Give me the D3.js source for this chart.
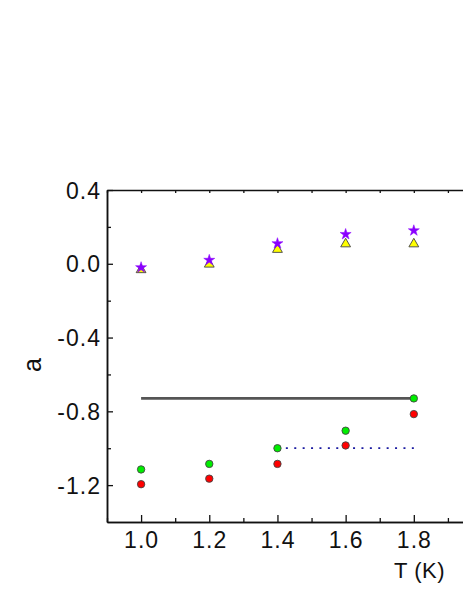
<!DOCTYPE html>
<html>
<head>
<meta charset="utf-8">
<script src="https://cdn.jsdelivr.net/npm/d3@7"></script>
<style>
  html, body { margin: 0; padding: 0; background: #fff; }
  svg { display: block; font-family: Arial, "Liberation Sans", sans-serif; }
</style>
</head>
<body>
<svg id="chart" width="463" height="599"></svg>
<script>
// ---- data ----
const temps = [1.0, 1.2, 1.4, 1.6, 1.8];
const starVals = [-0.02, 0.02, 0.11, 0.16, 0.18];
const triVals = [-0.03, 0.00, 0.08, 0.11, 0.11];
const greenVals = [-1.115, -1.085, -1.00, -0.905, -0.73];
const redVals = [-1.195, -1.165, -1.085, -0.985, -0.815];
const solidLine = { x: [1.0, 1.8], y: -0.73 };
const dottedLine = { x: [1.4, 1.8], y: -1.00 };
const xTicks = [1.0, 1.2, 1.4, 1.6, 1.8];
const xMinorTicks = [0.9, 1.1, 1.3, 1.5, 1.7, 1.9];
const yTicks = [0.4, 0.0, -0.4, -0.8, -1.2];
const yMinorTicks = [0.2, -0.2, -0.6, -1.0];
const xLabel = "T (K)";
const yLabel = "a";

// ---- layout ----
const svg = d3.select("#chart");
const mLeft = 107, mRight = 482, mTop = 190, mBottom = 522;
const x = d3.scaleLinear().domain([0.9, 2.0]).range([mLeft, mRight]);
const y = d3.scaleLinear().domain([-1.4, 0.4]).range([mBottom, mTop]);
const fmt = v => d3.format(".1f")(v).replace("\u2212", "-");

// axes
const axisColor = "#111";
const gx = svg.append("g").attr("transform", `translate(0,${mBottom})`)
  .call(d3.axisBottom(x).tickValues(xTicks).tickFormat(fmt).tickSizeInner(-7).tickSizeOuter(0).tickPadding(10));
const gxm = svg.append("g").attr("transform", `translate(0,${mBottom})`)
  .call(d3.axisBottom(x).tickValues(xMinorTicks).tickFormat("").tickSizeInner(-4).tickSizeOuter(0));
const gt = svg.append("g").attr("transform", `translate(0,${mTop})`)
  .call(d3.axisTop(x).tickValues(xTicks.concat(xMinorTicks)).tickFormat("").tickSizeInner(-3).tickSizeOuter(0));
const gy = svg.append("g").attr("transform", `translate(${mLeft},0)`)
  .call(d3.axisLeft(y).tickValues(yTicks).tickFormat(fmt).tickSizeInner(-6).tickSizeOuter(0).tickPadding(6));
const gym = svg.append("g").attr("transform", `translate(${mLeft},0)`)
  .call(d3.axisLeft(y).tickValues(yMinorTicks).tickFormat("").tickSizeInner(-4).tickSizeOuter(0));

[gx, gxm, gt, gy, gym].forEach(g => {
  g.select(".domain").attr("stroke", axisColor).attr("stroke-width", 1.5);
  g.selectAll(".tick line").attr("stroke", axisColor).attr("stroke-width", 1.3);
  g.selectAll(".tick text").attr("fill", "#111").style("font-size", "23px")
    .style("letter-spacing", "1px")
    .style("font-family", "Arial, 'Liberation Sans', sans-serif");
});
gy.selectAll(".tick text").attr("dy", "0.35em");

// axis labels
svg.append("text").attr("x", 445).attr("y", 578).attr("text-anchor", "end")
  .style("font-size", "22px").style("letter-spacing", "0.5px").attr("fill", "#111").text(xLabel);
svg.append("text").attr("transform", "translate(41,365) rotate(-90)").attr("text-anchor", "middle")
  .style("font-size", "25px").attr("fill", "#111").text(yLabel);

// reference lines
svg.append("line")
  .attr("x1", x(solidLine.x[0])).attr("x2", x(solidLine.x[1]))
  .attr("y1", y(solidLine.y)).attr("y2", y(solidLine.y))
  .attr("stroke", "#555").attr("stroke-width", 2.7);
svg.append("line")
  .attr("x1", x(dottedLine.x[0])).attr("x2", x(dottedLine.x[1]))
  .attr("y1", y(dottedLine.y)).attr("y2", y(dottedLine.y))
  .attr("stroke", "#1a1aa0").attr("stroke-width", 1.8).attr("stroke-dasharray", "2,6.4");

// markers
const pts = (vals) => temps.map((t, i) => ({ t, v: vals[i] }));

svg.append("g").selectAll("path").data(pts(triVals)).join("path")
  .attr("d", d3.symbol(d3.symbolTriangle, 42))
  .attr("transform", d => `translate(${x(d.t)},${y(d.v) + 0.5})`)
  .attr("fill", "#ffff00").attr("stroke", "#444").attr("stroke-width", 0.9);

svg.append("g").selectAll("path").data(pts(starVals)).join("path")
  .attr("d", d3.symbol(d3.symbolStar, 38))
  .attr("transform", d => `translate(${x(d.t)},${y(d.v)})`)
  .attr("fill", "#8a00ff").attr("stroke", "#8a00ff").attr("stroke-width", 0.5);

svg.append("g").selectAll("circle").data(pts(greenVals)).join("circle")
  .attr("cx", d => x(d.t)).attr("cy", d => y(d.v)).attr("r", 3.7)
  .attr("fill", "#00ee00").attr("stroke", "#444").attr("stroke-width", 0.9);

svg.append("g").selectAll("circle").data(pts(redVals)).join("circle")
  .attr("cx", d => x(d.t)).attr("cy", d => y(d.v)).attr("r", 3.7)
  .attr("fill", "#ff0000").attr("stroke", "#444").attr("stroke-width", 0.9);
</script>
</body>
</html>
